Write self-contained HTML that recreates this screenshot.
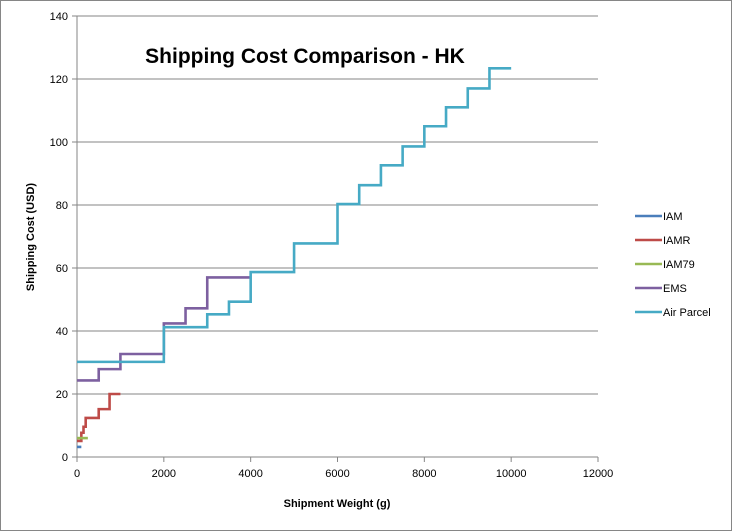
<!DOCTYPE html>
<html><head><meta charset="utf-8"><style>
html,body{margin:0;padding:0;background:#fff;}
svg{display:block;font-family:"Liberation Sans",Calibri,sans-serif;}
</style></head><body>
<svg id="chart" width="732" height="531" viewBox="0 0 732 531">
<rect x="0.5" y="0.5" width="731" height="530" fill="#fff" stroke="#868686"/>
<g id="grid"></g>
<g id="axes"></g>
<g id="series"></g>
<text x="305" y="63" text-anchor="middle" font-size="21" font-weight="bold">Shipping Cost Comparison - HK</text>
<text x="337" y="507" text-anchor="middle" font-size="11" font-weight="bold">Shipment Weight (g)</text>
<text x="0" y="0" transform="translate(34,237) rotate(-90)" text-anchor="middle" font-size="11" font-weight="bold">Shipping Cost (USD)</text>
<g id="legend"></g>
</svg>
<script>
const xTicks=[0,2000,4000,6000,8000,10000,12000];
const yTicks=[0,20,40,60,80,100,120,140];
const seriesNames=["IAM","IAMR","IAM79","EMS","Air Parcel"];
const seriesColors=["#4a7ebb","#be4b48","#98b954","#7d60a0","#46aac5"];
const iamX=[0,100];
const iamY=[3.2,3.2];
const iamrX=[0,100,150,200,500,750,1000];
const iamrY=[5.1,7.7,9.6,12.4,15.2,20,20];
const iam79X=[0,250];
const iam79Y=[6.0,6.0];
const emsX=[0,500,1000,2000,2500,3000,4000];
const emsY=[24.3,27.9,32.7,42.4,47.2,57,57];
const airX=[0,2000,3000,3500,4000,5000,6000,6500,7000,7500,8000,8500,9000,9500,10000];
const airY=[30.2,41.2,45.3,49.3,58.7,67.8,80.3,86.3,92.6,98.6,105,111,117,123.4,123.4];

const NS="http://www.w3.org/2000/svg";
const X0=77,X1=598,Y0=457,Y1=16;
function sx(v){return X0+(v-xTicks[0])/(xTicks[xTicks.length-1]-xTicks[0])*(X1-X0);}
function sy(v){return Y0-(v-yTicks[0])/(yTicks[yTicks.length-1]-yTicks[0])*(Y0-Y1);}
function mk(tag,attrs,parent){const e=document.createElementNS(NS,tag);for(const k in attrs)e.setAttribute(k,attrs[k]);parent.appendChild(e);return e;}
const grid=document.getElementById('grid'),axes=document.getElementById('axes'),ser=document.getElementById('series'),leg=document.getElementById('legend');
yTicks.forEach((t,i)=>{
  if(i>0){const g=mk('line',{x1:X0,x2:X1,y1:sy(t),y2:sy(t),stroke:'#868686','stroke-width':1},grid);
  
  }
  const tk=mk('line',{x1:X0-5,x2:X0,y1:sy(t),y2:sy(t),stroke:'#868686'},axes);
  
  
  const lb=mk('text',{x:X0-9,y:sy(t)+4,'text-anchor':'end','font-size':11},axes);
  lb.textContent=t;
  
  
});
xTicks.forEach(t=>{
  const tk=mk('line',{x1:sx(t),x2:sx(t),y1:Y0,y2:Y0+5,stroke:'#868686'},axes);
  
  
  const lb=mk('text',{x:sx(t),y:Y0+20,'text-anchor':'middle','font-size':11},axes);
  lb.textContent=t;
  
  
});
const ya=mk('line',{x1:X0,x2:X0,y1:Y1,y2:Y0,stroke:'#868686'},axes);


const xa=mk('line',{x1:X0,x2:X1,y1:Y0,y2:Y0,stroke:'#868686'},axes);


const allX=[iamX,iamrX,iam79X,emsX,airX],allY=[iamY,iamrY,iam79Y,emsY,airY];
const order=[0,1,2,3,4];
order.forEach(i=>{
  const xs=allX[i],ys=allY[i];let d='M'+sx(xs[0])+','+sy(ys[0]);
  for(let k=1;k<xs.length;k++){d+=' L'+sx(xs[k])+','+sy(ys[k-1])+' L'+sx(xs[k])+','+sy(ys[k]);}
  const p=mk('path',{d:d,fill:'none',stroke:seriesColors[i],'stroke-width':2.6,'stroke-linejoin':'miter'},ser);
  
  
});
seriesNames.forEach((n,i)=>{
  const y=216+i*24;
  const g=mk('g',{},leg);
  
  
  mk('line',{x1:635,x2:662,y1:y,y2:y,stroke:seriesColors[i],'stroke-width':2.6},g);
  const t=mk('text',{x:663,y:y+4,'font-size':11},g);
  t.textContent=n;
});
</script>
</body></html>
